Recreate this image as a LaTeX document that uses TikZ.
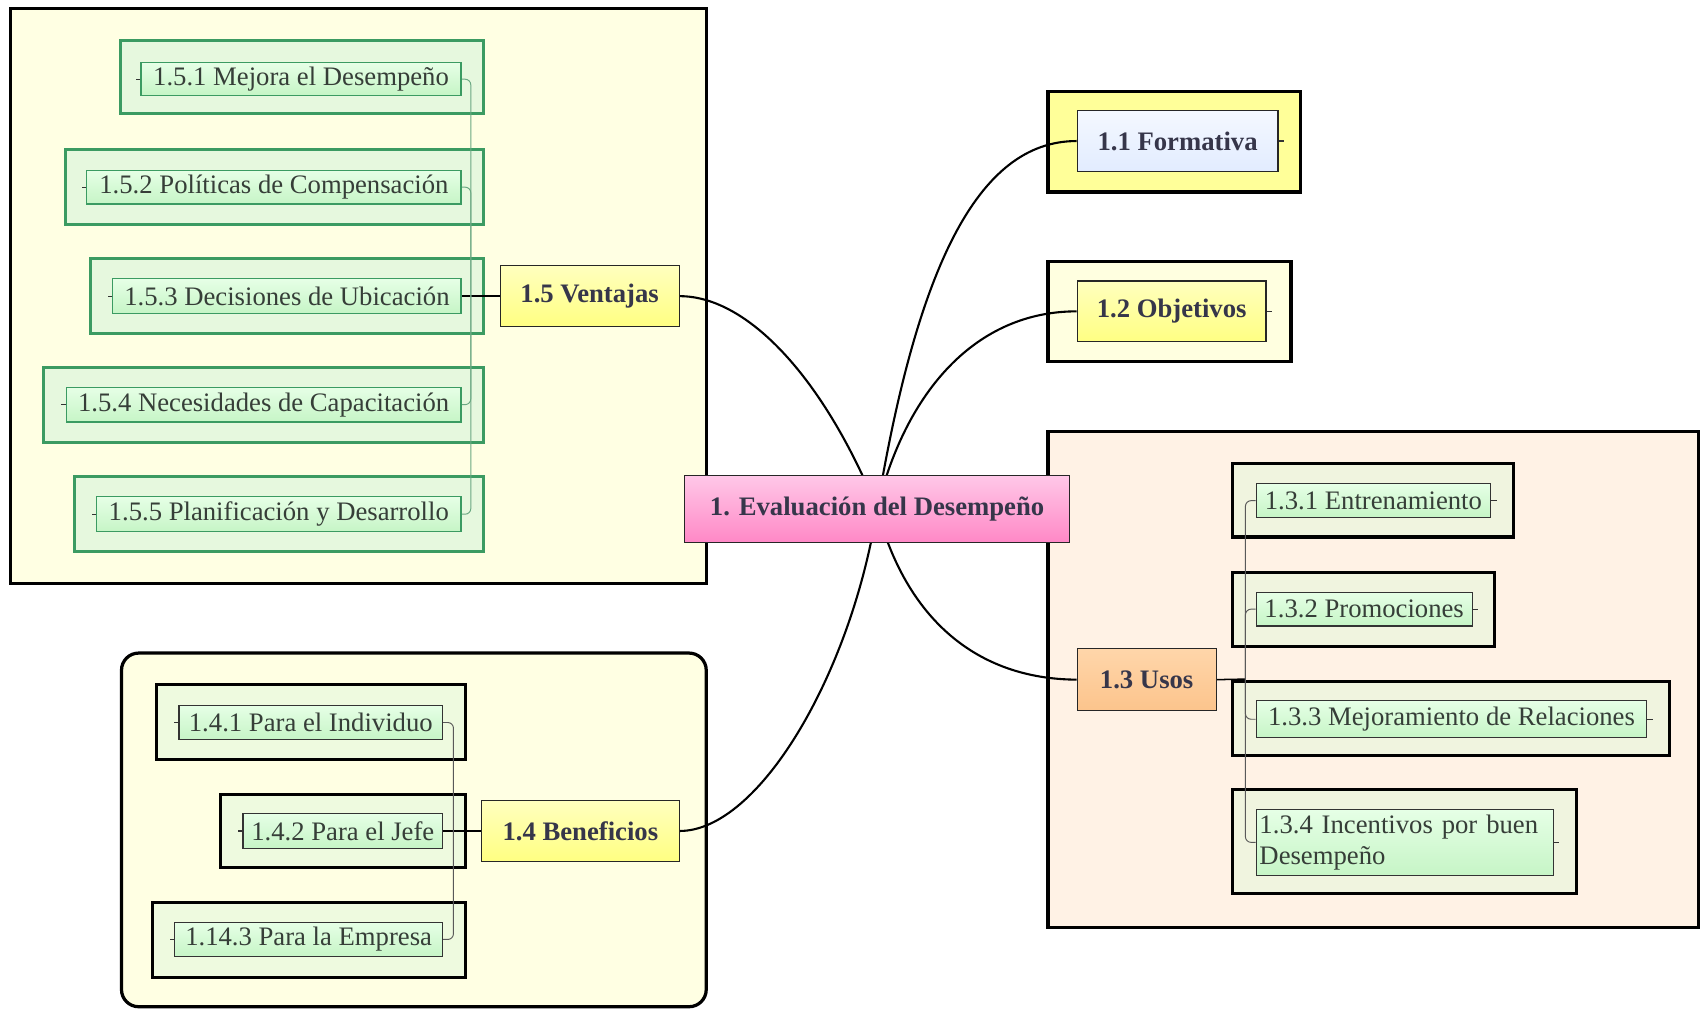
\documentclass[tikz,border=0pt]{standalone}
\usepackage{fontspec}
\setmainfont{Liberation Serif}

\pgfdeclarelayer{back}
\pgfdeclarelayer{links}
\pgfsetlayers{back,links,main}

\definecolor{ink}{HTML}{36364A}
\definecolor{leafink}{HTML}{363E38}
\definecolor{paleyellow}{HTML}{FFFFE3}
\definecolor{peach}{HTML}{FFF2E5}
\definecolor{gborder}{HTML}{3B9B62}
\definecolor{gframefill}{HTML}{E6F8DE}
\definecolor{oframefill}{HTML}{F0F4DF}
\definecolor{kframefill}{HTML}{EEFADF}
\definecolor{leaftop}{HTML}{E6FFE6}
\definecolor{leafbot}{HTML}{C6F5C6}
\definecolor{gbus}{HTML}{6AA882}

\tikzset{
  % a box given by its corners (x1,y1) and (x2,y2)
  corners/.style n args={4}{at={({(#1+#3)/2},{(#2+#4)/2})},
    minimum width={(#3-#1)*0.02cm}, minimum height={(#4-#2)*0.02cm}},
  panel/.style={draw=black, line width=1.7pt, inner sep=0pt},
  kframe/.style={draw=black, line width=1.6pt, inner sep=0pt},
  gframe/.style={draw=gborder, line width=1.6pt, fill=gframefill, inner sep=0pt},
  topic/.style={draw=black!85, line width=0.6pt, inner sep=0pt,
    font=\fontsize{14}{16}\selectfont\bfseries, text=ink},
  leaf/.style={draw=black!80, line width=0.6pt, inner sep=0pt,
    top color=leaftop, bottom color=leafbot,
    font=\fontsize{14}{16.5}\selectfont, text=leafink},
  gleaf/.style={leaf, draw=gborder},
  branch/.style={line width=1.1pt, black},
  link/.style={line width=0.8pt, black},
  bus/.style={line width=0.5pt, black!65, rounded corners=3pt},
  greenbus/.style={line width=0.5pt, gbus, rounded corners=3pt},
  tick/.style={line width=0.6pt, black!80},
}

\begin{document}
\begin{tikzpicture}[x=0.02cm, y=-0.02cm]
\useasboundingbox (0,0) rectangle (1568,930);

% ---------- grouping panels ----------
\begin{pgfonlayer}{back}
  \node[panel, fill=paleyellow, corners={10}{8}{651}{538}] (p15) {};
  \node[panel, fill=paleyellow, rounded corners=9pt, corners={112}{602}{651}{928}] (p14) {};
  \node[panel, fill=peach, corners={966}{398}{1566}{855}] (p13) {};
  \node[panel, fill={rgb,255:red,255;green,255;blue,153}, corners={966}{84}{1199}{177}] (p11) {};
  \node[panel, fill={rgb,255:red,255;green,255;blue,224}, corners={966}{241}{1190}{333}] (p12) {};

  % frames round the sub-topics
  \node[gframe, corners={111}{37}{446}{105}] (f151) {};
  \node[gframe, corners={60}{138}{446}{207}] (f152) {};
  \node[gframe, corners={83}{238}{446}{307}] (f153) {};
  \node[gframe, corners={40}{339}{446}{408}] (f154) {};
  \node[gframe, corners={69}{439}{446}{508}] (f155) {};

  \node[kframe, fill=kframefill, corners={144}{631}{429}{700}] (f141) {};
  \node[kframe, fill=kframefill, corners={203}{732}{429}{800}] (f142) {};
  \node[kframe, fill=kframefill, corners={141}{832}{429}{901}] (f143) {};

  \node[kframe, fill=oframefill, corners={1136}{427}{1395}{495}] (f131) {};
  \node[kframe, fill=oframefill, corners={1136}{528}{1378}{596}] (f132) {};
  \node[kframe, fill=oframefill, corners={1136}{628}{1539}{696}] (f133) {};
  \node[kframe, fill=oframefill, corners={1136}{728}{1453}{824}] (f134) {};
\end{pgfonlayer}

% ---------- central topic and main topics ----------
\node[topic, top color={rgb,255:red,255;green,200;blue,232}, bottom color={rgb,255:red,255;green,136;blue,198},
      corners={631}{438}{986}{500}] (c) {1. Evaluación del Desempeño};
\node[topic, top color={rgb,255:red,244;green,248;blue,255}, bottom color={rgb,255:red,226;green,236;blue,255},
      corners={993}{102}{1178}{158}] (n11) {1.1 Formativa};
\node[topic, top color={rgb,255:red,255;green,255;blue,190}, bottom color={rgb,255:red,255;green,255;blue,130},
      corners={993}{259}{1167}{315}] (n12) {1.2 Objetivos};
\node[topic, top color={rgb,255:red,255;green,214;blue,170}, bottom color={rgb,255:red,252;green,196;blue,140},
      corners={993}{598}{1121}{655}] (n13) {1.3 Usos};
\node[topic, top color={rgb,255:red,255;green,255;blue,190}, bottom color={rgb,255:red,255;green,255;blue,130},
      corners={444}{738}{626}{794}] (n14) {1.4 Beneficios};
\node[topic, top color={rgb,255:red,255;green,255;blue,190}, bottom color={rgb,255:red,255;green,255;blue,130},
      corners={461}{245}{626}{301}] (n15) {1.5 Ventajas};

% ---------- sub-topics ----------
\node[gleaf, corners={130}{58}{425}{88}]   (n151) {1.5.1 Mejora el Desempeño};
\node[gleaf, corners={80}{157}{425}{188}]  (n152) {1.5.2 Políticas de Compensación};
\node[gleaf, corners={104}{257}{425}{289}] (n153) {1.5.3 Decisiones de Ubicación};
\node[gleaf, corners={61}{357}{425}{389}]  (n154) {1.5.4 Necesidades de Capacitación};
\node[gleaf, corners={89}{458}{425}{490}]  (n155) {1.5.5 Planificación y Desarrollo};

\node[leaf, corners={165}{650}{408}{682}] (n141) {1.4.1 Para el Individuo};
\node[leaf, corners={224}{750}{408}{782}] (n142) {1.4.2 Para el Jefe};
\node[leaf, corners={161}{850}{408}{882}] (n143) {1.14.3 Para la Empresa};

\node[leaf, corners={1158}{446}{1374}{477}] (n131) {1.3.1 Entrenamiento};
\node[leaf, corners={1158}{546}{1357}{577}] (n132) {1.3.2 Promociones};
\node[leaf, corners={1158}{646}{1518}{680}] (n133) {1.3.3 Mejoramiento de Relaciones};
\node[leaf, corners={1158}{746}{1432}{807}, text width={268*0.02cm}, align=left] (n134)
  {1.3.4 Incentivos por buen\\Desempeño};

% ---------- connectors ----------
\coordinate (b15) at (434,273);
\coordinate (b14) at (418,766);
\coordinate (b13) at (1148,626);

\begin{pgfonlayer}{links}
  \draw[branch] (c.center) .. controls (845,250) and (900,130) .. (n11.west);
  \draw[branch] (c.center) .. controls (835,360) and (900,287) .. (n12.west);
  \draw[branch] (c.center) .. controls (835,570) and (900,626) .. (n13.west);
  \draw[branch] (c.center) .. controls (785,620) and (700,766) .. (n14.east);
  \draw[branch] (c.center) .. controls (760,350) and (690,273) .. (n15.east);

  % branch 1.5
  \draw[link] (n15.west) -- (n153.east);
  \draw[greenbus] (b15) |- (n151.east);
  \draw[greenbus] (b15) |- (n152.east);
  \draw[greenbus] (b15) |- (n154.east);
  \draw[greenbus] (b15) |- (n155.east);

  % branch 1.4
  \draw[link] (n14.west) -- (n142.east);
  \draw[bus] (b14) |- (n141.east);
  \draw[bus] (b14) |- (n143.east);

  % branch 1.3
  \draw[link] (n13.east) -- (b13);
  \draw[bus] (b13) |- (n131.west);
  \draw[bus] (b13) |- (n132.west);
  \draw[bus] (b13) |- (n133.west);
  \draw[bus] (b13) |- (n134.west);
\end{pgfonlayer}

% collapse ticks on the free sides
\foreach \n in {n151,n152,n153,n154,n155,n141,n142,n143}
  \draw[tick] (\n.west) -- ++(-4,0);
\foreach \n in {n131,n132,n133,n134,n11,n12}
  \draw[tick] (\n.east) -- ++(5,0);
\end{tikzpicture}
\end{document}
